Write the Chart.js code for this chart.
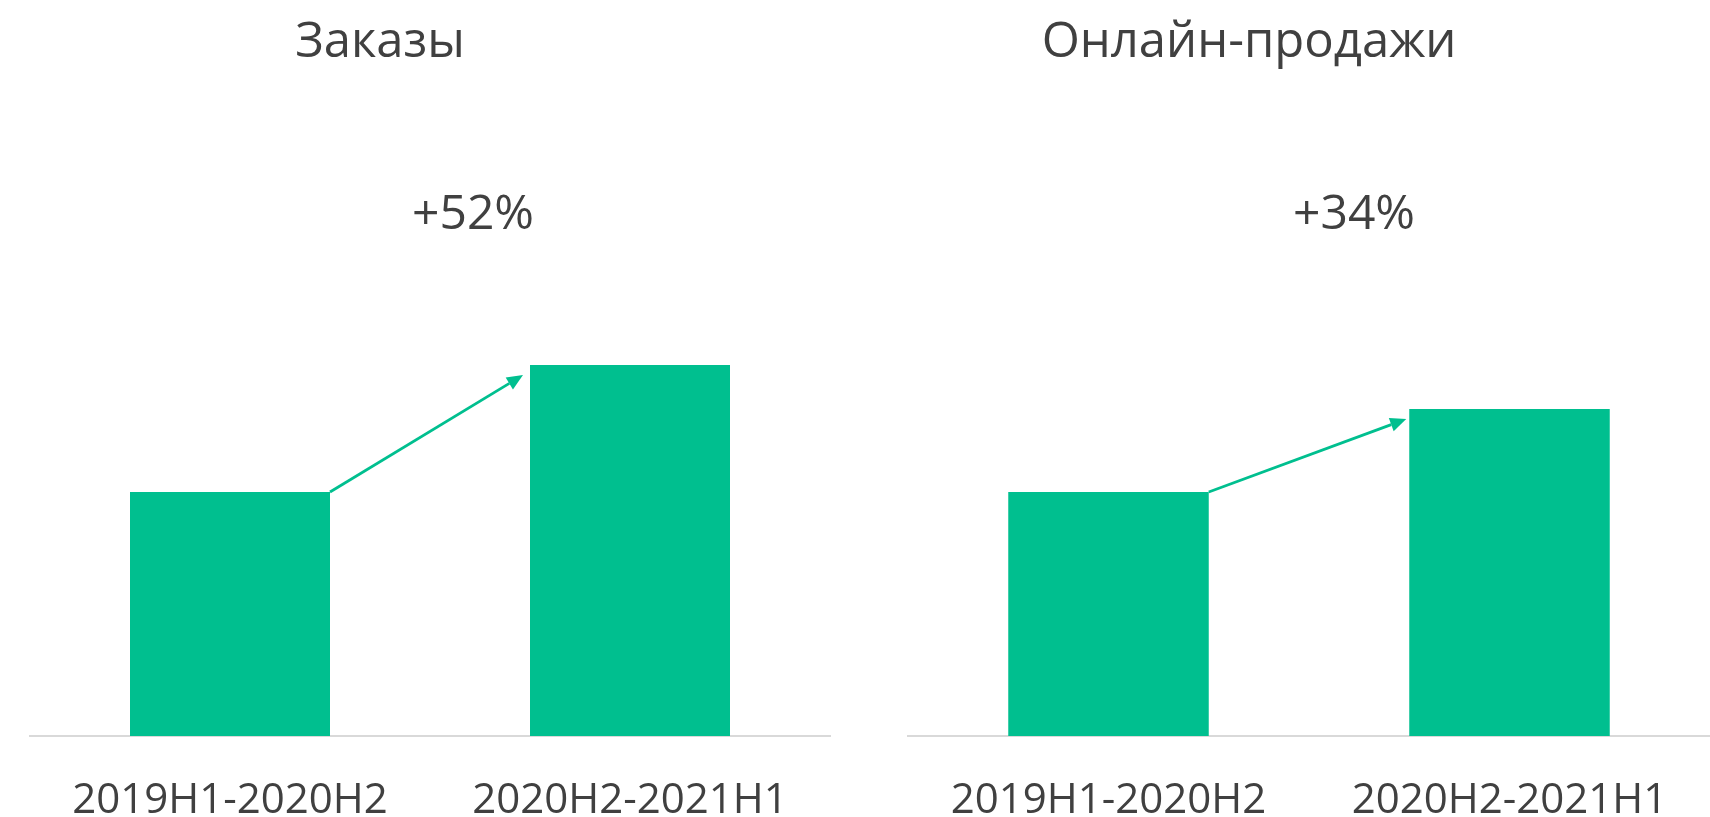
<!DOCTYPE html>
<html>
<head>
<meta charset="utf-8">
<script src="https://cdn.jsdelivr.net/npm/chart.js@4.4.0/dist/chart.umd.min.js"></script>
<style>
  body { margin: 0; background: #fff; }
  .panel { position: absolute; top: 0; width: 855px; height: 817px; }
</style>
</head>
<body>
<div class="panel" style="left:0"><canvas id="ordersChart" width="855" height="817"></canvas></div>
<div class="panel" style="left:855px"><canvas id="onlineChart" width="855" height="817"></canvas></div>
<script>
// periods on the x axis
const periods = ['2019H1-2020H2', '2020H2-2021H1'];
// index values, first period = 100
const ordersValues = [100, 152];
const onlineValues = [100, 134];
const titles = ['Заказы', 'Онлайн-продажи'];
const growthLabels = ['+52%', '+34%'];

const GREEN = '#00bf8f';
const TEXT = '#404040';
const FONT = "'Open Sans', sans-serif";

// draws the panel title, the growth label and the arrow between the bars
const growthArrow = {
    id: 'growthArrow',
    afterDatasetsDraw(chart, args, opts) {
        const ctx = chart.ctx;
        const bars = chart.getDatasetMeta(0).data;
        const b0 = bars[0], b1 = bars[1];

        ctx.save();
        ctx.fillStyle = TEXT;
        ctx.textAlign = 'center';
        ctx.textBaseline = 'alphabetic';
        ctx.font = '49px ' + FONT;
        ctx.fillText(opts.title, opts.titleX, 57);
        ctx.font = '48px ' + FONT;
        ctx.fillText(opts.label, opts.labelX, 229);

        const x1 = b0.x + b0.width / 2, y1 = b0.y;
        const x2 = b1.x - b1.width / 2 - opts.gapX, y2 = b1.y + 10;
        const ang = Math.atan2(y2 - y1, x2 - x1);
        const head = 16, half = 7;
        ctx.strokeStyle = GREEN;
        ctx.fillStyle = GREEN;
        ctx.lineWidth = 2.8;
        ctx.beginPath();
        ctx.moveTo(x1, y1);
        ctx.lineTo(x2 - head * Math.cos(ang), y2 - head * Math.sin(ang));
        ctx.stroke();
        ctx.beginPath();
        ctx.moveTo(x2, y2);
        ctx.lineTo(x2 - head * Math.cos(ang) + half * Math.sin(ang), y2 - head * Math.sin(ang) - half * Math.cos(ang));
        ctx.lineTo(x2 - head * Math.cos(ang) - half * Math.sin(ang), y2 - head * Math.sin(ang) + half * Math.cos(ang));
        ctx.closePath();
        ctx.fill();
        ctx.restore();
    }
};

const makeChart = (id, values, title, label, pad, titleX, labelX, gapX) => {
    const ctx = document.getElementById(id).getContext('2d');
    return new Chart(ctx, {
        type: 'bar',
        data: {
            labels: periods,
            datasets: [{
                data: values,
                backgroundColor: GREEN,
                borderWidth: 0,
                categoryPercentage: 1,
                barPercentage: 0.5
            }]
        },
        options: {
            responsive: false,
            animation: false,
            layout: { padding: { top: 126, left: pad.left, right: pad.right, bottom: 0 } },
            plugins: {
                legend: { display: false },
                tooltip: { enabled: false },
                growthArrow: { title, label, titleX, labelX, gapX }
            },
            scales: {
                x: {
                    grid: { display: false, drawTicks: false },
                    border: { color: '#d9d9d9', width: 2 },
                    ticks: { color: TEXT, font: { family: FONT, size: 42 }, padding: 40, maxRotation: 0 },
                    afterFit: (axis) => { axis.height = 81; }
                },
                y: { display: false, min: 0, max: 250 }
            }
        },
        plugins: [growthArrow]
    });
};

makeChart('ordersChart', ordersValues, titles[0], growthLabels[0], { left: 30, right: 25 }, 380, 473, 7);
makeChart('onlineChart', onlineValues, titles[1], growthLabels[1], { left: 53, right: 0 }, 394, 499, 3);
</script>
</body>
</html>
